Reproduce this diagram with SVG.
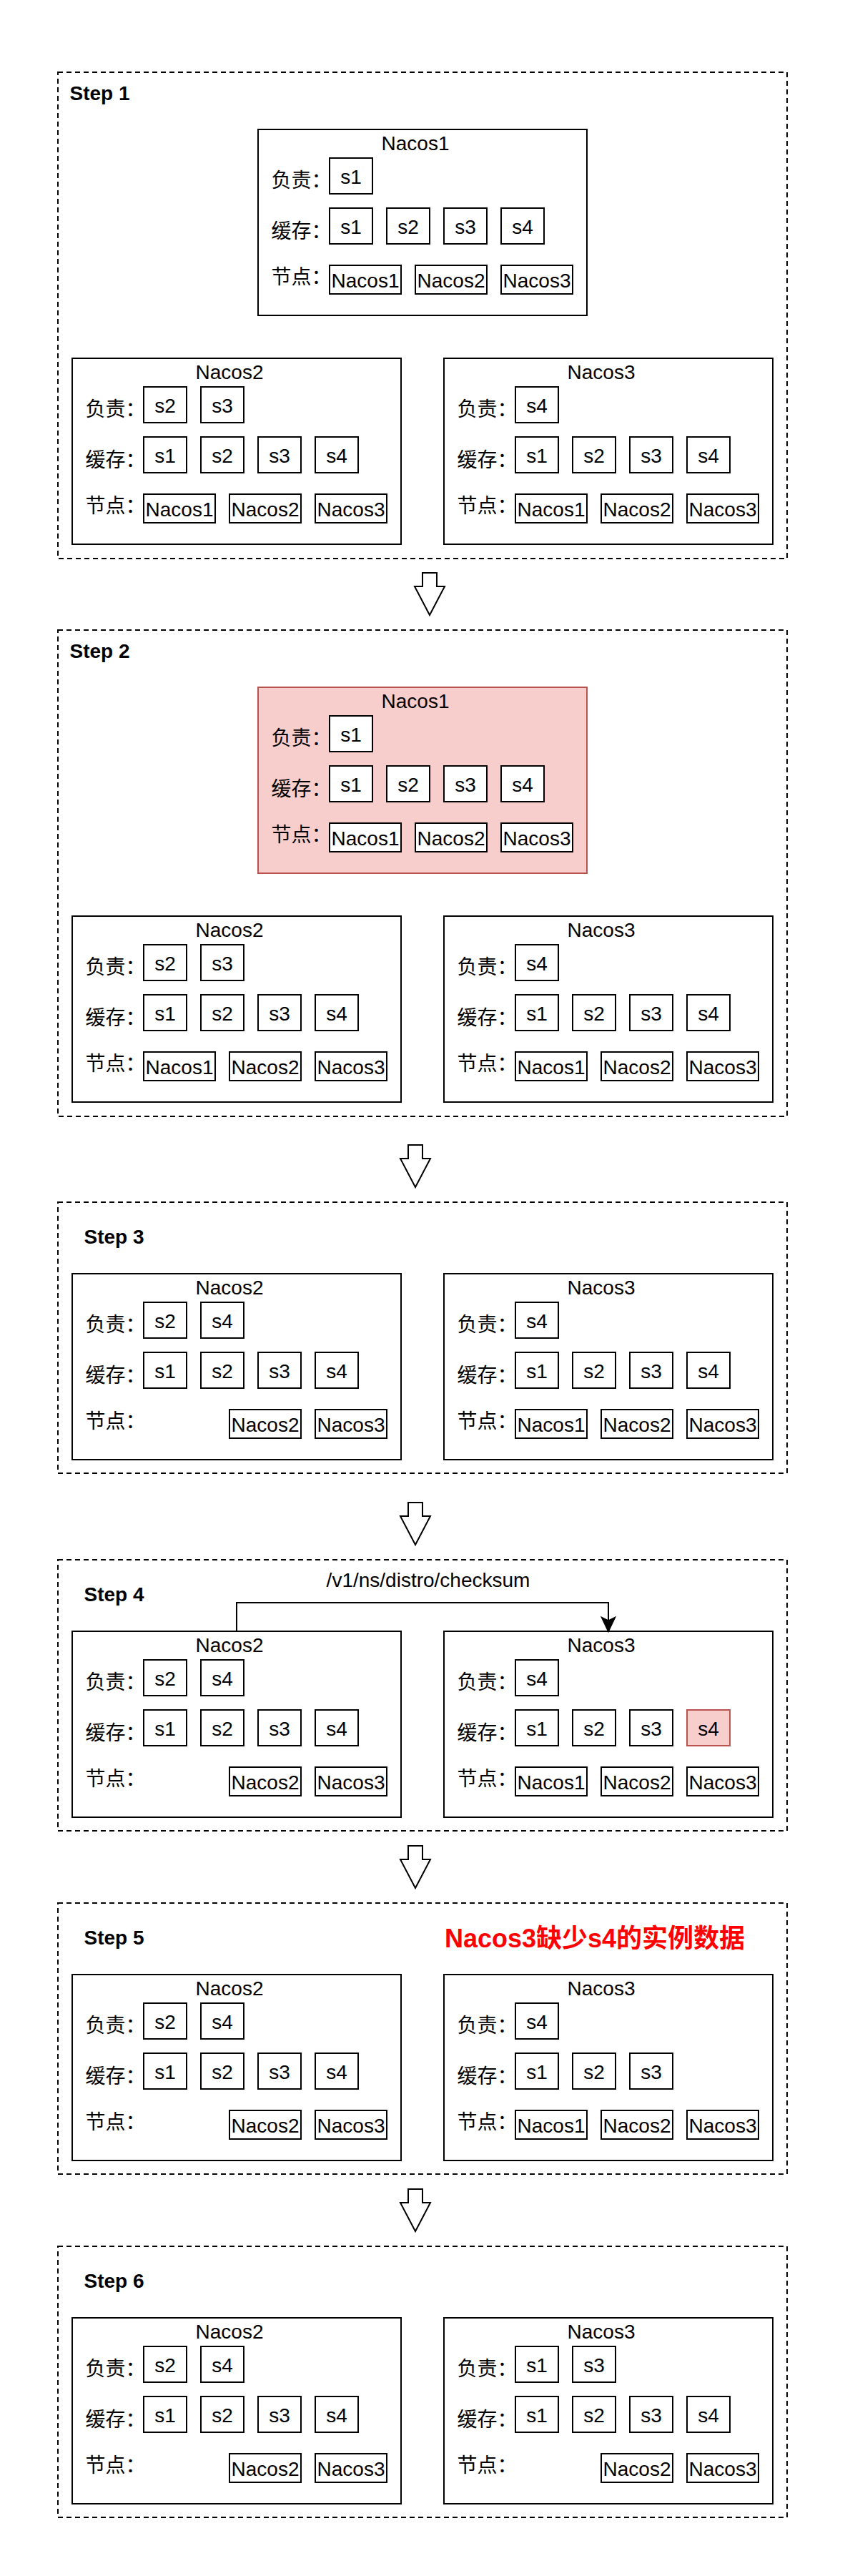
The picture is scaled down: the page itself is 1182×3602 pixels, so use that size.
<svg xmlns="http://www.w3.org/2000/svg" width="1182" height="3602" viewBox="0 0 1182 3602">
<style>
.bg{fill:#fff}
.box{fill:#fff;stroke:#000;stroke-width:2}
.red{fill:#f8cecc;stroke:#b85450;stroke-width:2}
.step{fill:none;stroke:#000;stroke-width:2;stroke-dasharray:7 5}
.arr{fill:#fff;stroke:#000;stroke-width:2;stroke-linejoin:miter}
.t{font-family:"Liberation Sans","Noto Sans CJK SC",sans-serif;font-size:28px;fill:#000}
.c{text-anchor:middle}
.b{font-weight:bold}
.warn{font-family:"Liberation Sans","Noto Sans CJK SC",sans-serif;font-size:36px;font-weight:bold;fill:#ff0000;text-anchor:middle}
.line{fill:none;stroke:#000;stroke-width:2}
</style>
<rect class="bg" width="1182" height="3602"/>

<!-- Step containers -->
<g id="step1"><rect class="step" x="81" y="101" width="1020" height="680"/><text class="t b" x="97.5" y="140">Step 1</text></g>
<g id="step2"><rect class="step" x="81" y="881" width="1020" height="680"/><text class="t b" x="97.5" y="920">Step 2</text></g>
<g id="step3"><rect class="step" x="81" y="1681" width="1020" height="379"/><text class="t b" x="117.5" y="1739">Step 3</text></g>
<g id="step4"><rect class="step" x="81" y="2181" width="1020" height="379"/><text class="t b" x="117.5" y="2239">Step 4</text></g>
<g id="step5"><rect class="step" x="81" y="2661" width="1020" height="379"/><text class="t b" x="117.5" y="2719">Step 5</text><text class="warn" x="832" y="2723">Nacos3缺少s4的实例数据</text></g>
<g id="step6"><rect class="step" x="81" y="3141" width="1020" height="379"/><text class="t b" x="117.5" y="3199">Step 6</text></g>

<!-- Step 1 -->
<g id="s1-nacos1" transform="translate(361,181)">
<rect class="box" width="460" height="260"/>
<text class="t c" x="220" y="29">Nacos1</text>
<text class="t" x="18.5" y="81">负责：</text><text class="t" x="18.5" y="152">缓存：</text><text class="t" x="18.5" y="216">节点：</text>
<rect class="box" x="100" y="40" width="60" height="50"/><text class="t c" x="130" y="76">s1</text>
<rect class="box" x="100" y="110" width="60" height="50"/><text class="t c" x="130" y="146">s1</text>
<rect class="box" x="180" y="110" width="60" height="50"/><text class="t c" x="210" y="146">s2</text>
<rect class="box" x="260" y="110" width="60" height="50"/><text class="t c" x="290" y="146">s3</text>
<rect class="box" x="340" y="110" width="60" height="50"/><text class="t c" x="370" y="146">s4</text>
<rect class="box" x="100" y="190" width="100" height="40"/><text class="t c" x="150" y="221">Nacos1</text>
<rect class="box" x="220" y="190" width="100" height="40"/><text class="t c" x="270" y="221">Nacos2</text>
<rect class="box" x="340" y="190" width="100" height="40"/><text class="t c" x="390" y="221">Nacos3</text>
</g>
<g id="s1-nacos2" transform="translate(101,501)">
<rect class="box" width="460" height="260"/>
<text class="t c" x="220" y="29">Nacos2</text>
<text class="t" x="18.5" y="81">负责：</text><text class="t" x="18.5" y="152">缓存：</text><text class="t" x="18.5" y="216">节点：</text>
<rect class="box" x="100" y="40" width="60" height="50"/><text class="t c" x="130" y="76">s2</text>
<rect class="box" x="180" y="40" width="60" height="50"/><text class="t c" x="210" y="76">s3</text>
<rect class="box" x="100" y="110" width="60" height="50"/><text class="t c" x="130" y="146">s1</text>
<rect class="box" x="180" y="110" width="60" height="50"/><text class="t c" x="210" y="146">s2</text>
<rect class="box" x="260" y="110" width="60" height="50"/><text class="t c" x="290" y="146">s3</text>
<rect class="box" x="340" y="110" width="60" height="50"/><text class="t c" x="370" y="146">s4</text>
<rect class="box" x="100" y="190" width="100" height="40"/><text class="t c" x="150" y="221">Nacos1</text>
<rect class="box" x="220" y="190" width="100" height="40"/><text class="t c" x="270" y="221">Nacos2</text>
<rect class="box" x="340" y="190" width="100" height="40"/><text class="t c" x="390" y="221">Nacos3</text>
</g>
<g id="s1-nacos3" transform="translate(621,501)">
<rect class="box" width="460" height="260"/>
<text class="t c" x="220" y="29">Nacos3</text>
<text class="t" x="18.5" y="81">负责：</text><text class="t" x="18.5" y="152">缓存：</text><text class="t" x="18.5" y="216">节点：</text>
<rect class="box" x="100" y="40" width="60" height="50"/><text class="t c" x="130" y="76">s4</text>
<rect class="box" x="100" y="110" width="60" height="50"/><text class="t c" x="130" y="146">s1</text>
<rect class="box" x="180" y="110" width="60" height="50"/><text class="t c" x="210" y="146">s2</text>
<rect class="box" x="260" y="110" width="60" height="50"/><text class="t c" x="290" y="146">s3</text>
<rect class="box" x="340" y="110" width="60" height="50"/><text class="t c" x="370" y="146">s4</text>
<rect class="box" x="100" y="190" width="100" height="40"/><text class="t c" x="150" y="221">Nacos1</text>
<rect class="box" x="220" y="190" width="100" height="40"/><text class="t c" x="270" y="221">Nacos2</text>
<rect class="box" x="340" y="190" width="100" height="40"/><text class="t c" x="390" y="221">Nacos3</text>
</g>

<!-- Step 2 -->
<g id="s2-nacos1" transform="translate(361,961)">
<rect class="red" width="460" height="260"/>
<text class="t c" x="220" y="29">Nacos1</text>
<text class="t" x="18.5" y="81">负责：</text><text class="t" x="18.5" y="152">缓存：</text><text class="t" x="18.5" y="216">节点：</text>
<rect class="box" x="100" y="40" width="60" height="50"/><text class="t c" x="130" y="76">s1</text>
<rect class="box" x="100" y="110" width="60" height="50"/><text class="t c" x="130" y="146">s1</text>
<rect class="box" x="180" y="110" width="60" height="50"/><text class="t c" x="210" y="146">s2</text>
<rect class="box" x="260" y="110" width="60" height="50"/><text class="t c" x="290" y="146">s3</text>
<rect class="box" x="340" y="110" width="60" height="50"/><text class="t c" x="370" y="146">s4</text>
<rect class="box" x="100" y="190" width="100" height="40"/><text class="t c" x="150" y="221">Nacos1</text>
<rect class="box" x="220" y="190" width="100" height="40"/><text class="t c" x="270" y="221">Nacos2</text>
<rect class="box" x="340" y="190" width="100" height="40"/><text class="t c" x="390" y="221">Nacos3</text>
</g>
<g id="s2-nacos2" transform="translate(101,1281)">
<rect class="box" width="460" height="260"/>
<text class="t c" x="220" y="29">Nacos2</text>
<text class="t" x="18.5" y="81">负责：</text><text class="t" x="18.5" y="152">缓存：</text><text class="t" x="18.5" y="216">节点：</text>
<rect class="box" x="100" y="40" width="60" height="50"/><text class="t c" x="130" y="76">s2</text>
<rect class="box" x="180" y="40" width="60" height="50"/><text class="t c" x="210" y="76">s3</text>
<rect class="box" x="100" y="110" width="60" height="50"/><text class="t c" x="130" y="146">s1</text>
<rect class="box" x="180" y="110" width="60" height="50"/><text class="t c" x="210" y="146">s2</text>
<rect class="box" x="260" y="110" width="60" height="50"/><text class="t c" x="290" y="146">s3</text>
<rect class="box" x="340" y="110" width="60" height="50"/><text class="t c" x="370" y="146">s4</text>
<rect class="box" x="100" y="190" width="100" height="40"/><text class="t c" x="150" y="221">Nacos1</text>
<rect class="box" x="220" y="190" width="100" height="40"/><text class="t c" x="270" y="221">Nacos2</text>
<rect class="box" x="340" y="190" width="100" height="40"/><text class="t c" x="390" y="221">Nacos3</text>
</g>
<g id="s2-nacos3" transform="translate(621,1281)">
<rect class="box" width="460" height="260"/>
<text class="t c" x="220" y="29">Nacos3</text>
<text class="t" x="18.5" y="81">负责：</text><text class="t" x="18.5" y="152">缓存：</text><text class="t" x="18.5" y="216">节点：</text>
<rect class="box" x="100" y="40" width="60" height="50"/><text class="t c" x="130" y="76">s4</text>
<rect class="box" x="100" y="110" width="60" height="50"/><text class="t c" x="130" y="146">s1</text>
<rect class="box" x="180" y="110" width="60" height="50"/><text class="t c" x="210" y="146">s2</text>
<rect class="box" x="260" y="110" width="60" height="50"/><text class="t c" x="290" y="146">s3</text>
<rect class="box" x="340" y="110" width="60" height="50"/><text class="t c" x="370" y="146">s4</text>
<rect class="box" x="100" y="190" width="100" height="40"/><text class="t c" x="150" y="221">Nacos1</text>
<rect class="box" x="220" y="190" width="100" height="40"/><text class="t c" x="270" y="221">Nacos2</text>
<rect class="box" x="340" y="190" width="100" height="40"/><text class="t c" x="390" y="221">Nacos3</text>
</g>

<!-- Step 3 -->
<g id="s3-nacos2" transform="translate(101,1781)">
<rect class="box" width="460" height="260"/>
<text class="t c" x="220" y="29">Nacos2</text>
<text class="t" x="18.5" y="81">负责：</text><text class="t" x="18.5" y="152">缓存：</text><text class="t" x="18.5" y="216">节点：</text>
<rect class="box" x="100" y="40" width="60" height="50"/><text class="t c" x="130" y="76">s2</text>
<rect class="box" x="180" y="40" width="60" height="50"/><text class="t c" x="210" y="76">s4</text>
<rect class="box" x="100" y="110" width="60" height="50"/><text class="t c" x="130" y="146">s1</text>
<rect class="box" x="180" y="110" width="60" height="50"/><text class="t c" x="210" y="146">s2</text>
<rect class="box" x="260" y="110" width="60" height="50"/><text class="t c" x="290" y="146">s3</text>
<rect class="box" x="340" y="110" width="60" height="50"/><text class="t c" x="370" y="146">s4</text>
<rect class="box" x="220" y="190" width="100" height="40"/><text class="t c" x="270" y="221">Nacos2</text>
<rect class="box" x="340" y="190" width="100" height="40"/><text class="t c" x="390" y="221">Nacos3</text>
</g>
<g id="s3-nacos3" transform="translate(621,1781)">
<rect class="box" width="460" height="260"/>
<text class="t c" x="220" y="29">Nacos3</text>
<text class="t" x="18.5" y="81">负责：</text><text class="t" x="18.5" y="152">缓存：</text><text class="t" x="18.5" y="216">节点：</text>
<rect class="box" x="100" y="40" width="60" height="50"/><text class="t c" x="130" y="76">s4</text>
<rect class="box" x="100" y="110" width="60" height="50"/><text class="t c" x="130" y="146">s1</text>
<rect class="box" x="180" y="110" width="60" height="50"/><text class="t c" x="210" y="146">s2</text>
<rect class="box" x="260" y="110" width="60" height="50"/><text class="t c" x="290" y="146">s3</text>
<rect class="box" x="340" y="110" width="60" height="50"/><text class="t c" x="370" y="146">s4</text>
<rect class="box" x="100" y="190" width="100" height="40"/><text class="t c" x="150" y="221">Nacos1</text>
<rect class="box" x="220" y="190" width="100" height="40"/><text class="t c" x="270" y="221">Nacos2</text>
<rect class="box" x="340" y="190" width="100" height="40"/><text class="t c" x="390" y="221">Nacos3</text>
</g>

<!-- Step 4 -->
<g id="s4-nacos2" transform="translate(101,2281)">
<rect class="box" width="460" height="260"/>
<text class="t c" x="220" y="29">Nacos2</text>
<text class="t" x="18.5" y="81">负责：</text><text class="t" x="18.5" y="152">缓存：</text><text class="t" x="18.5" y="216">节点：</text>
<rect class="box" x="100" y="40" width="60" height="50"/><text class="t c" x="130" y="76">s2</text>
<rect class="box" x="180" y="40" width="60" height="50"/><text class="t c" x="210" y="76">s4</text>
<rect class="box" x="100" y="110" width="60" height="50"/><text class="t c" x="130" y="146">s1</text>
<rect class="box" x="180" y="110" width="60" height="50"/><text class="t c" x="210" y="146">s2</text>
<rect class="box" x="260" y="110" width="60" height="50"/><text class="t c" x="290" y="146">s3</text>
<rect class="box" x="340" y="110" width="60" height="50"/><text class="t c" x="370" y="146">s4</text>
<rect class="box" x="220" y="190" width="100" height="40"/><text class="t c" x="270" y="221">Nacos2</text>
<rect class="box" x="340" y="190" width="100" height="40"/><text class="t c" x="390" y="221">Nacos3</text>
</g>
<g id="s4-nacos3" transform="translate(621,2281)">
<rect class="box" width="460" height="260"/>
<text class="t c" x="220" y="29">Nacos3</text>
<text class="t" x="18.5" y="81">负责：</text><text class="t" x="18.5" y="152">缓存：</text><text class="t" x="18.5" y="216">节点：</text>
<rect class="box" x="100" y="40" width="60" height="50"/><text class="t c" x="130" y="76">s4</text>
<rect class="box" x="100" y="110" width="60" height="50"/><text class="t c" x="130" y="146">s1</text>
<rect class="box" x="180" y="110" width="60" height="50"/><text class="t c" x="210" y="146">s2</text>
<rect class="box" x="260" y="110" width="60" height="50"/><text class="t c" x="290" y="146">s3</text>
<rect class="red" x="340" y="110" width="60" height="50"/><text class="t c" x="370" y="146">s4</text>
<rect class="box" x="100" y="190" width="100" height="40"/><text class="t c" x="150" y="221">Nacos1</text>
<rect class="box" x="220" y="190" width="100" height="40"/><text class="t c" x="270" y="221">Nacos2</text>
<rect class="box" x="340" y="190" width="100" height="40"/><text class="t c" x="390" y="221">Nacos3</text>
</g>

<!-- Step 5 -->
<g id="s5-nacos2" transform="translate(101,2761)">
<rect class="box" width="460" height="260"/>
<text class="t c" x="220" y="29">Nacos2</text>
<text class="t" x="18.5" y="81">负责：</text><text class="t" x="18.5" y="152">缓存：</text><text class="t" x="18.5" y="216">节点：</text>
<rect class="box" x="100" y="40" width="60" height="50"/><text class="t c" x="130" y="76">s2</text>
<rect class="box" x="180" y="40" width="60" height="50"/><text class="t c" x="210" y="76">s4</text>
<rect class="box" x="100" y="110" width="60" height="50"/><text class="t c" x="130" y="146">s1</text>
<rect class="box" x="180" y="110" width="60" height="50"/><text class="t c" x="210" y="146">s2</text>
<rect class="box" x="260" y="110" width="60" height="50"/><text class="t c" x="290" y="146">s3</text>
<rect class="box" x="340" y="110" width="60" height="50"/><text class="t c" x="370" y="146">s4</text>
<rect class="box" x="220" y="190" width="100" height="40"/><text class="t c" x="270" y="221">Nacos2</text>
<rect class="box" x="340" y="190" width="100" height="40"/><text class="t c" x="390" y="221">Nacos3</text>
</g>
<g id="s5-nacos3" transform="translate(621,2761)">
<rect class="box" width="460" height="260"/>
<text class="t c" x="220" y="29">Nacos3</text>
<text class="t" x="18.5" y="81">负责：</text><text class="t" x="18.5" y="152">缓存：</text><text class="t" x="18.5" y="216">节点：</text>
<rect class="box" x="100" y="40" width="60" height="50"/><text class="t c" x="130" y="76">s4</text>
<rect class="box" x="100" y="110" width="60" height="50"/><text class="t c" x="130" y="146">s1</text>
<rect class="box" x="180" y="110" width="60" height="50"/><text class="t c" x="210" y="146">s2</text>
<rect class="box" x="260" y="110" width="60" height="50"/><text class="t c" x="290" y="146">s3</text>
<rect class="box" x="100" y="190" width="100" height="40"/><text class="t c" x="150" y="221">Nacos1</text>
<rect class="box" x="220" y="190" width="100" height="40"/><text class="t c" x="270" y="221">Nacos2</text>
<rect class="box" x="340" y="190" width="100" height="40"/><text class="t c" x="390" y="221">Nacos3</text>
</g>

<!-- Step 6 -->
<g id="s6-nacos2" transform="translate(101,3241)">
<rect class="box" width="460" height="260"/>
<text class="t c" x="220" y="29">Nacos2</text>
<text class="t" x="18.5" y="81">负责：</text><text class="t" x="18.5" y="152">缓存：</text><text class="t" x="18.5" y="216">节点：</text>
<rect class="box" x="100" y="40" width="60" height="50"/><text class="t c" x="130" y="76">s2</text>
<rect class="box" x="180" y="40" width="60" height="50"/><text class="t c" x="210" y="76">s4</text>
<rect class="box" x="100" y="110" width="60" height="50"/><text class="t c" x="130" y="146">s1</text>
<rect class="box" x="180" y="110" width="60" height="50"/><text class="t c" x="210" y="146">s2</text>
<rect class="box" x="260" y="110" width="60" height="50"/><text class="t c" x="290" y="146">s3</text>
<rect class="box" x="340" y="110" width="60" height="50"/><text class="t c" x="370" y="146">s4</text>
<rect class="box" x="220" y="190" width="100" height="40"/><text class="t c" x="270" y="221">Nacos2</text>
<rect class="box" x="340" y="190" width="100" height="40"/><text class="t c" x="390" y="221">Nacos3</text>
</g>
<g id="s6-nacos3" transform="translate(621,3241)">
<rect class="box" width="460" height="260"/>
<text class="t c" x="220" y="29">Nacos3</text>
<text class="t" x="18.5" y="81">负责：</text><text class="t" x="18.5" y="152">缓存：</text><text class="t" x="18.5" y="216">节点：</text>
<rect class="box" x="100" y="40" width="60" height="50"/><text class="t c" x="130" y="76">s1</text>
<rect class="box" x="180" y="40" width="60" height="50"/><text class="t c" x="210" y="76">s3</text>
<rect class="box" x="100" y="110" width="60" height="50"/><text class="t c" x="130" y="146">s1</text>
<rect class="box" x="180" y="110" width="60" height="50"/><text class="t c" x="210" y="146">s2</text>
<rect class="box" x="260" y="110" width="60" height="50"/><text class="t c" x="290" y="146">s3</text>
<rect class="box" x="340" y="110" width="60" height="50"/><text class="t c" x="370" y="146">s4</text>
<rect class="box" x="220" y="190" width="100" height="40"/><text class="t c" x="270" y="221">Nacos2</text>
<rect class="box" x="340" y="190" width="100" height="40"/><text class="t c" x="390" y="221">Nacos3</text>
</g>

<!-- Connectors -->
<g id="connectors">
<polygon class="arr" points="591,801 611,801 611,820 622,820 601,860 580,820 591,820"/>
<polygon class="arr" points="571,1601 591,1601 591,1620 602,1620 581,1660 560,1620 571,1620"/>
<polygon class="arr" points="571,2101 591,2101 591,2120 602,2120 581,2160 560,2120 571,2120"/>
<polygon class="arr" points="571,2581 591,2581 591,2600 602,2600 581,2640 560,2600 571,2600"/>
<polygon class="arr" points="571,3061 591,3061 591,3080 602,3080 581,3120 560,3080 571,3080"/>
<path class="line" d="M331 2281 V2241 H851 V2270"/>
<polygon points="851,2281 842,2262 851,2266.5 860,2262" fill="#000" stroke="#000" stroke-width="2"/>
<text class="t c" x="599" y="2219">/v1/ns/distro/checksum</text>
</g>
</svg>
